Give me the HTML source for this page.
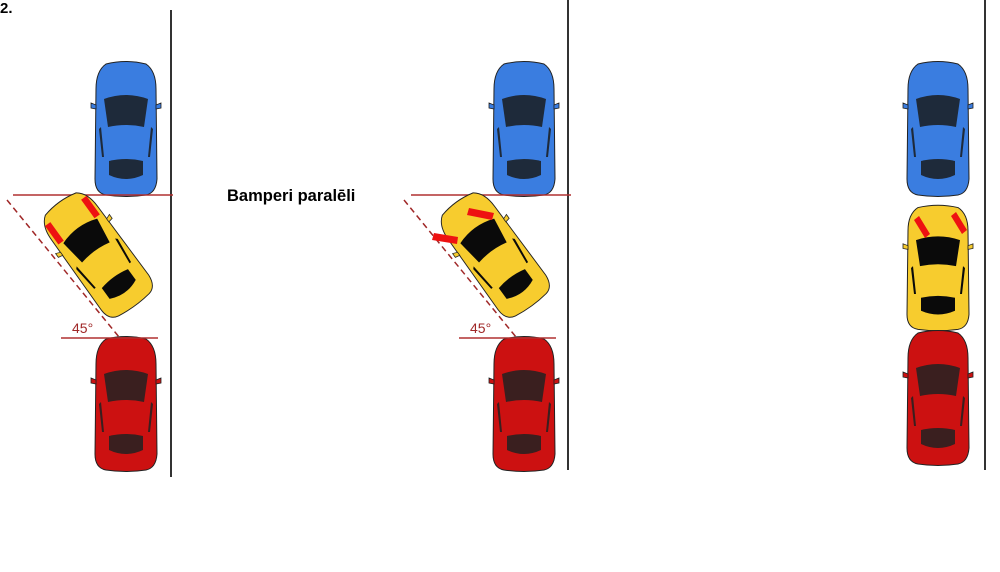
<!DOCTYPE html>
<html><head><meta charset="utf-8"><style>
body{margin:0;background:#fff;}
svg{display:block;}
text{font-family:"Liberation Sans",sans-serif;}
</style></head><body>
<svg width="1000" height="572" viewBox="0 0 1000 572">
<defs>
<symbol id="car" overflow="visible">
  <path d="M-20,-65 Q0,-70 20,-65 Q30,-58 30,-40 L31,50 Q30,64 20,66 Q0,69 -20,66 Q-31,64 -31,50 L-30,-40 Q-30,-58 -20,-65Z" fill="var(--b)" stroke="#222" stroke-width="1"/>
  <path d="M-30,-24 l-5,-2 l0,5 l5,1Z M30,-24 l5,-2 l0,5 l-5,1Z" fill="var(--b)" stroke="#222" stroke-width="0.8"/>
  <path d="M-22,-30 Q0,-38 22,-30 L18,-2 Q0,-6 -18,-2Z" fill="var(--w)"/>
  <path d="M-17,32 Q0,28 17,32 L17,46 Q0,54 -17,46Z" fill="var(--w)"/>
  <path d="M-25,-2 L-22,28 L-24,28 L-27,0Z M25,-2 L22,28 L24,28 L27,0Z" fill="var(--w)"/>
</symbol>
</defs>
<text x="0" y="13" font-size="15" font-weight="bold">2.</text>
<text x="227" y="201" font-size="16.5" font-weight="bold">Bamperi paralēli</text>

<!-- panel 1 -->
<line x1="171" y1="10" x2="171" y2="477" stroke="#333" stroke-width="2"/>
<use href="#car" x="126" y="129" style="--b:#3a7de0;--w:#1e2a3a"/>
<use href="#car" x="126" y="404" style="--b:#cc1111;--w:#3a1f1f"/>
<line x1="13" y1="195" x2="173" y2="195" stroke="#b03030" stroke-width="1.5"/>
<line x1="61" y1="338" x2="158" y2="338" stroke="#b03030" stroke-width="1.5"/>
<line x1="7" y1="200" x2="119" y2="337" stroke="#a02828" stroke-width="1.5" stroke-dasharray="6,4"/>
<text x="72" y="333" font-size="14" fill="#a02828">45°</text>
<g transform="translate(97,254) rotate(-36) scale(0.95,0.95)">
  <use href="#car" style="--b:#f7cc2e;--w:#0a0a0a"/>
  <rect x="-27" y="-56" width="7" height="24" fill="#ee1111"/>
  <rect x="20" y="-56" width="7" height="24" fill="#ee1111"/>
</g>

<!-- panel 2 -->
<line x1="568" y1="0" x2="568" y2="470" stroke="#333" stroke-width="2"/>
<use href="#car" x="524" y="129" style="--b:#3a7de0;--w:#1e2a3a"/>
<use href="#car" x="524" y="404" style="--b:#cc1111;--w:#3a1f1f"/>
<line x1="411" y1="195" x2="571" y2="195" stroke="#b03030" stroke-width="1.5"/>
<line x1="459" y1="338" x2="556" y2="338" stroke="#b03030" stroke-width="1.5"/>
<line x1="404" y1="200" x2="516" y2="337" stroke="#a02828" stroke-width="1.5" stroke-dasharray="6,4"/>
<text x="470" y="333" font-size="14" fill="#a02828">45°</text>
<g transform="translate(494,254) rotate(-36) scale(0.95,0.95)">
  <use href="#car" style="--b:#f7cc2e;--w:#0a0a0a"/>
</g>
<polygon points="469,208 494,213 492,220 467,215" fill="#ee1111"/>
<polygon points="434,233 458,237 457,244 432,240" fill="#ee1111"/>

<!-- panel 3 -->
<line x1="985" y1="0" x2="985" y2="470" stroke="#333" stroke-width="2"/>
<use href="#car" x="938" y="129" style="--b:#3a7de0;--w:#1e2a3a"/>
<g transform="translate(938,268) scale(1,0.93)"><use href="#car" style="--b:#f7cc2e;--w:#0a0a0a"/></g>
<use href="#car" x="938" y="398" style="--b:#cc1111;--w:#3a1f1f"/>
<polygon points="914,220 919,216 930,234 925,238" fill="#ee1111"/>
<polygon points="951,216 956,212 967,230 962,234" fill="#ee1111"/>
</svg>
</body></html>
